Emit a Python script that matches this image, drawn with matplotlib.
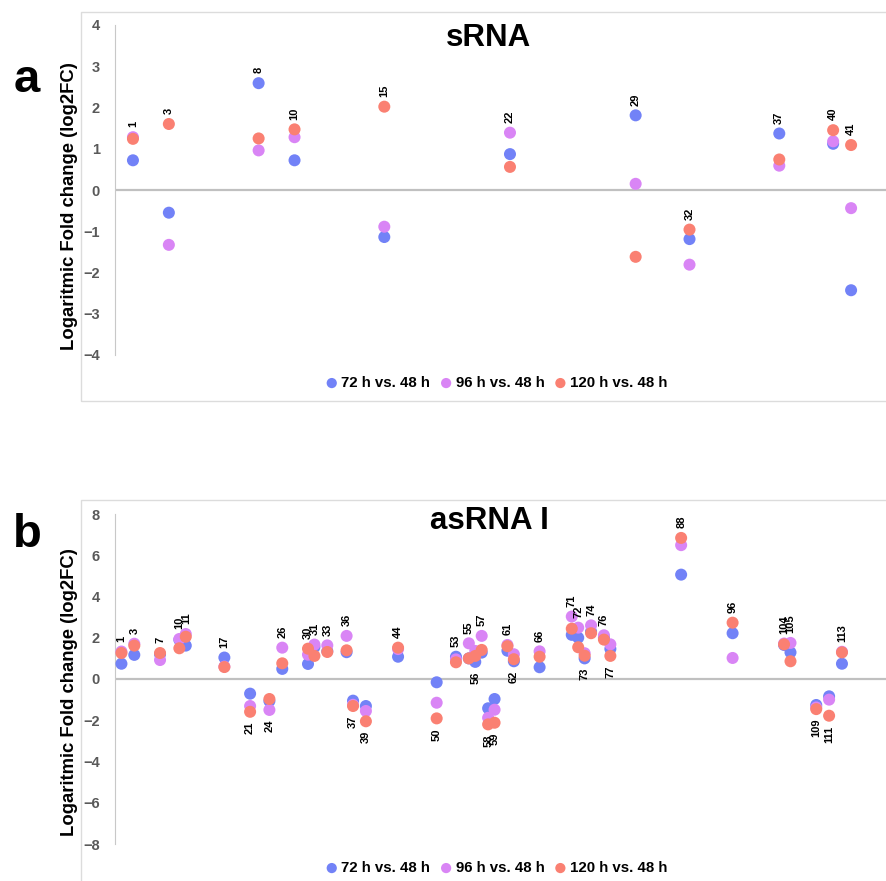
import matplotlib
matplotlib.use("Agg")
from matplotlib import pyplot as plt
from matplotlib.patches import Rectangle

plt.rcParams['font.family'] = ['Liberation Sans', 'DejaVu Sans']

# panel a: sRNA
srna_ids = [1, 3, 8, 10, 15, 22, 29, 32, 37, 40, 41]
srna_72 = [0.72, -0.55, 2.59, 0.72, -1.14, 0.87, 1.81, -1.19, 1.37, 1.12, -2.43]
srna_96 = [1.28, -1.33, 0.96, 1.28, -0.89, 1.39, 0.15, -1.81, 0.59, 1.18, -0.44]
srna_120 = [1.24, 1.60, 1.25, 1.47, 2.02, 0.56, -1.62, -0.96, 0.74, 1.45, 1.09]

# panel b: asRNA I
as_ids = [1, 3, 7, 10, 11, 17, 21, 24, 26, 30, 31, 33, 36, 37, 39, 44, 50, 53, 55,
          56, 57, 58, 59, 61, 62, 66, 71, 72, 73, 74, 76, 77, 88, 96, 104, 105, 109, 111, 113]
as_72 = [0.74, 1.17, 1.20, 1.90, 1.62, 1.04, -0.71, -1.07, 0.49, 0.73, 1.55, 1.35, 1.30,
         -1.05, -1.31, 1.08, -0.16, 1.08, 1.00, 0.83, 1.28, -1.42, -0.97, 1.37, 0.86, 0.57,
         2.14, 2.00, 1.00, 2.30, 2.00, 1.46, 5.06, 2.22, 1.65, 1.29, -1.26, -0.84, 0.74]
as_96 = [1.33, 1.71, 0.92, 1.94, 2.18, 0.60, -1.31, -1.50, 1.52, 1.18, 1.67, 1.63, 2.09,
         -1.25, -1.55, 1.45, -1.15, 0.95, 1.73, 1.36, 2.09, -1.88, -1.49, 1.65, 1.20, 1.34,
         3.03, 2.49, 1.25, 2.60, 2.12, 1.68, 6.49, 1.02, 1.72, 1.75, -1.38, -1.00, 1.32]
as_120 = [1.26, 1.62, 1.26, 1.49, 2.05, 0.58, -1.59, -0.97, 0.76, 1.47, 1.12, 1.31, 1.39,
          -1.31, -2.05, 1.52, -1.91, 0.81, 1.00, 1.12, 1.41, -2.20, -2.12, 1.59, 0.96, 1.08,
          2.44, 1.54, 1.13, 2.22, 1.91, 1.12, 6.84, 2.73, 1.68, 0.86, -1.46, -1.78, 1.29]
as_below = [21, 24, 37, 39, 50, 56, 58, 59, 62, 73, 77, 109, 111]

series_names = ["72 h vs. 48 h", "96 h vs. 48 h", "120 h vs. 48 h"]
colors = ['#7282F7', '#D985F5', '#FA8072']

W, H = 887, 881
fig = plt.figure(figsize=(W / 100, H / 100), dpi=100)


def fy(py):
    return 1 - py / H


def panel(rect, ids, vals, below, ylim, yticks, xmax, title, title_y, letter, letter_y,
          ylab_y, leg_y, box):
    ax = fig.add_axes(rect)
    ax.patch.set_visible(False)
    for s in ['top', 'right', 'bottom']:
        ax.spines[s].set_visible(False)
    ax.spines['left'].set_color('#c8c8c8')
    ax.axhline(0, color='#c0c0c0', lw=1.6, zorder=1)
    for v, c, name in zip(vals, colors, series_names):
        ax.scatter(ids, v, s=75, color=c, edgecolors='none', label=name, zorder=3)
    for i, n in enumerate(ids):
        col = [v[i] for v in vals]
        if n in below:
            ax.annotate(str(n), (n, min(col)), xytext=(0, -7), textcoords='offset points',
                        rotation=90, ha='center', va='top', fontsize=8, fontweight='bold')
        else:
            ax.annotate(str(n), (n, max(col)), xytext=(0, 7), textcoords='offset points',
                        rotation=90, ha='center', va='bottom', fontsize=8, fontweight='bold')
    ax.set_xlim(0, xmax)
    ax.set_ylim(*ylim)
    ax.set_xticks([])
    ax.set_yticks(yticks)
    ax.tick_params(axis='y', length=0, pad=11, labelsize=10.5, labelcolor='#595959')
    for t in ax.get_yticklabels():
        t.set_fontweight('bold')
    fig.text(489 / W, fy(title_y), title, ha='center', va='center', fontsize=22.5,
             fontweight='bold')
    fig.text(27 / W, fy(letter_y), letter, ha='center', va='center', fontsize=34,
             fontweight='bold')
    fig.text(70 / W, fy(ylab_y), "Logaritmic Fold change (log2FC)", rotation=90,
             ha='center', va='center', fontsize=13.3, fontweight='bold')
    ax.legend(loc='center', bbox_to_anchor=(497 / W, fy(leg_y)), bbox_transform=fig.transFigure,
              ncol=3, frameon=False, handlelength=0.7, handletextpad=0.3, columnspacing=0.7,
              borderaxespad=0, prop={'weight': 'bold', 'size': 10.8}, scatterpoints=1,
              markerscale=0.85)
    fig.add_artist(Rectangle((81 / W, fy(box[1])), 1, (box[1] - box[0]) / H,
                             transform=fig.transFigure, fill=False, ec='#dcdcdc', lw=1))
    return ax


panel([115 / W, fy(355), 1 - 115 / W, (355 - 25) / H], srna_ids,
      [srna_72, srna_96, srna_120], [], (-4, 4), range(-4, 5), 43, "sRNA", 38, "a", 80,
      206, 383, (12, 401))
panel([115 / W, fy(844), 1 - 115 / W, (844 - 514) / H], as_ids,
      [as_72, as_96, as_120], as_below, (-8, 8), range(-8, 9, 2), 120, "asRNA I", 521, "b",
      535, 692, 868, (500, 950))

fig.savefig("out.png", dpi=100)
